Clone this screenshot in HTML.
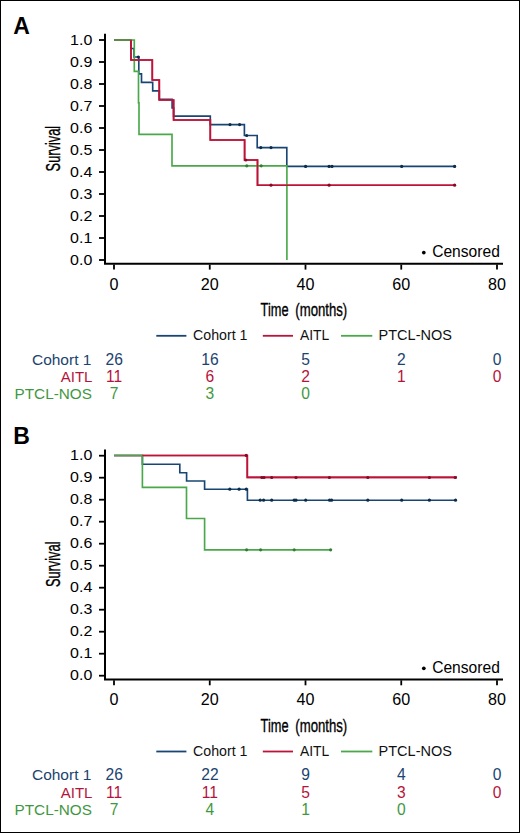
<!DOCTYPE html>
<html><head><meta charset="utf-8"><style>
html,body{margin:0;padding:0;background:#fff;}
#c{position:relative;width:520px;height:833px;box-sizing:border-box;border:1px solid #000;overflow:hidden;background:#fff;}
svg{position:absolute;left:-1px;top:-1px;}
text{font-family:"Liberation Sans", sans-serif;}
</style></head><body><div id="c">
<svg width="520" height="833" viewBox="0 0 520 833" font-family='"Liberation Sans", sans-serif'>
<g transform="translate(0,0)">
<text x="13.2" y="33.5" font-size="23" font-weight="bold" fill="#000">A</text>
<path d="M105 33.8 V263.8 H503" fill="none" stroke="#000" stroke-width="2"/>
<path d="M99 260 H105" stroke="#000" stroke-width="1.8"/>
<text transform="translate(92.3,264.6) scale(1.045,1)" font-size="15.3" text-anchor="end" fill="#000">0.0</text>
<path d="M99 238 H105" stroke="#000" stroke-width="1.8"/>
<text transform="translate(92.3,242.6) scale(1.045,1)" font-size="15.3" text-anchor="end" fill="#000">0.1</text>
<path d="M99 216 H105" stroke="#000" stroke-width="1.8"/>
<text transform="translate(92.3,220.6) scale(1.045,1)" font-size="15.3" text-anchor="end" fill="#000">0.2</text>
<path d="M99 194 H105" stroke="#000" stroke-width="1.8"/>
<text transform="translate(92.3,198.6) scale(1.045,1)" font-size="15.3" text-anchor="end" fill="#000">0.3</text>
<path d="M99 172 H105" stroke="#000" stroke-width="1.8"/>
<text transform="translate(92.3,176.6) scale(1.045,1)" font-size="15.3" text-anchor="end" fill="#000">0.4</text>
<path d="M99 150 H105" stroke="#000" stroke-width="1.8"/>
<text transform="translate(92.3,154.6) scale(1.045,1)" font-size="15.3" text-anchor="end" fill="#000">0.5</text>
<path d="M99 128 H105" stroke="#000" stroke-width="1.8"/>
<text transform="translate(92.3,132.6) scale(1.045,1)" font-size="15.3" text-anchor="end" fill="#000">0.6</text>
<path d="M99 106 H105" stroke="#000" stroke-width="1.8"/>
<text transform="translate(92.3,110.6) scale(1.045,1)" font-size="15.3" text-anchor="end" fill="#000">0.7</text>
<path d="M99 84 H105" stroke="#000" stroke-width="1.8"/>
<text transform="translate(92.3,88.6) scale(1.045,1)" font-size="15.3" text-anchor="end" fill="#000">0.8</text>
<path d="M99 62 H105" stroke="#000" stroke-width="1.8"/>
<text transform="translate(92.3,66.6) scale(1.045,1)" font-size="15.3" text-anchor="end" fill="#000">0.9</text>
<path d="M99 40 H105" stroke="#000" stroke-width="1.8"/>
<text transform="translate(92.3,44.6) scale(1.045,1)" font-size="15.3" text-anchor="end" fill="#000">1.0</text>
<path d="M114.00 264.6 V269.6" stroke="#000" stroke-width="1.8"/>
<text transform="translate(114.00,289.7) scale(1.035,1)" font-size="15.6" text-anchor="middle" fill="#000">0</text>
<path d="M209.75 264.6 V269.6" stroke="#000" stroke-width="1.8"/>
<text transform="translate(209.75,289.7) scale(1.035,1)" font-size="15.6" text-anchor="middle" fill="#000">20</text>
<path d="M305.50 264.6 V269.6" stroke="#000" stroke-width="1.8"/>
<text transform="translate(305.50,289.7) scale(1.035,1)" font-size="15.6" text-anchor="middle" fill="#000">40</text>
<path d="M401.25 264.6 V269.6" stroke="#000" stroke-width="1.8"/>
<text transform="translate(401.25,289.7) scale(1.035,1)" font-size="15.6" text-anchor="middle" fill="#000">60</text>
<path d="M497.00 264.6 V269.6" stroke="#000" stroke-width="1.8"/>
<text transform="translate(497.00,289.7) scale(1.035,1)" font-size="15.6" text-anchor="middle" fill="#000">80</text>
<text transform="translate(59.6,148.6) rotate(-90) scale(0.655,1)" font-size="19.6" text-anchor="middle" fill="#000" stroke="#000" stroke-width="0.35">Survival</text>
<text transform="translate(260.6,316.3) scale(0.70,1)" font-size="18.3" fill="#000" stroke="#000" stroke-width="0.35">Time</text>
<text transform="translate(295.3,316.3) scale(0.72,1)" font-size="18.3" fill="#000" stroke="#000" stroke-width="0.35">(months)</text>
<circle cx="423.8" cy="252.6" r="1.85" fill="#000"/>
<text x="432.2" y="257.4" font-size="15.6" fill="#000">Censored</text>
<path d="M114 40 L131 40 L131 48.5 L134 48.5 L134 57 L138.8 57 L138.8 73.8 L141.5 73.8 L141.5 82.3 L152.7 82.3 L152.7 90.8 L159.3 90.8 L159.3 99.2 L172.1 99.2 L172.1 108 L173.6 108 L173.6 116.1 L210.3 116.1 L210.3 124.6 L244.4 124.6 L244.4 135.5 L257.2 135.5 L257.2 147.6 L286.8 147.6 L286.8 166.4 L456 166.4" fill="none" stroke="#184574" stroke-width="1.65" stroke-linejoin="miter"/>
<path d="M114 40 L131 40 L131 60 L152.3 60 L152.3 80 L159.3 80 L159.3 100 L173.6 100 L173.6 120 L210.3 120 L210.3 140 L244.6 140 L244.6 160 L257.5 160 L257.5 185.2 L456 185.2" fill="none" stroke="#bc1438" stroke-width="1.65" stroke-linejoin="miter"/>
<path d="M114 40 L134.3 40 L134.3 71.4 L138.5 71.4 L138.5 102.9 L139 102.9 L139 134.3 L172 134.3 L172 165.8 L286.9 165.8 L286.9 260" fill="none" stroke="#4aa84a" stroke-width="1.65" stroke-linejoin="miter"/>
<path d="M131 40 L131 60 L152.3 60 L152.3 80 L159.3 80 L159.3 100 L173.6 100 L173.6 120 L210.3 120 L210.3 140 L244.6 140 L244.6 160 L257.5 160 L257.5 185.2 L456 185.2" fill="none" stroke="#bc1438" stroke-width="1.65" stroke-linejoin="miter"/>
<circle cx="138.3" cy="57" r="1.6" fill="#0c2c4c"/>
<circle cx="230" cy="124.6" r="1.6" fill="#0c2c4c"/>
<circle cx="239.6" cy="124.6" r="1.6" fill="#0c2c4c"/>
<circle cx="246.7" cy="135.5" r="1.6" fill="#0c2c4c"/>
<circle cx="260.8" cy="147.6" r="1.6" fill="#0c2c4c"/>
<circle cx="271" cy="147.6" r="1.6" fill="#0c2c4c"/>
<circle cx="305.6" cy="166.4" r="1.6" fill="#0c2c4c"/>
<circle cx="329.1" cy="166.4" r="1.6" fill="#0c2c4c"/>
<circle cx="332" cy="166.4" r="1.6" fill="#0c2c4c"/>
<circle cx="401.7" cy="166.4" r="1.6" fill="#0c2c4c"/>
<circle cx="454.6" cy="166.4" r="1.6" fill="#0c2c4c"/>
<circle cx="246.8" cy="165.8" r="1.6" fill="#2f7f2f"/>
<circle cx="261.2" cy="165.8" r="1.6" fill="#2f7f2f"/>
<circle cx="245.8" cy="160" r="1.6" fill="#860a28"/>
<circle cx="271" cy="185.2" r="1.6" fill="#860a28"/>
<circle cx="329.1" cy="185.2" r="1.6" fill="#860a28"/>
<circle cx="454.6" cy="185.2" r="1.6" fill="#860a28"/>
<path d="M156.3 335.8 H186.4" stroke="#184574" stroke-width="1.8"/>
<text x="193" y="340.1" font-size="14.2" fill="#111">Cohort 1</text>
<path d="M262.8 335.8 H293" stroke="#bc1438" stroke-width="1.8"/>
<text x="300" y="340.1" font-size="13.9" fill="#111">AITL</text>
<path d="M341 335.8 H372.3" stroke="#4aa84a" stroke-width="1.8"/>
<text x="378.6" y="340.1" font-size="14.5" fill="#111">PTCL-NOS</text>
<text x="91.4" y="364.7" font-size="15.5" text-anchor="end" fill="#1b4470">Cohort 1</text>
<text x="114.20" y="364.7" font-size="15.6" text-anchor="middle" fill="#1b4470">26</text>
<text x="209.95" y="364.7" font-size="15.6" text-anchor="middle" fill="#1b4470">16</text>
<text x="305.70" y="364.7" font-size="15.6" text-anchor="middle" fill="#1b4470">5</text>
<text x="401.45" y="364.7" font-size="15.6" text-anchor="middle" fill="#1b4470">2</text>
<text x="497.20" y="364.7" font-size="15.6" text-anchor="middle" fill="#1b4470">0</text>
<text x="92.4" y="382.0" font-size="15" text-anchor="end" fill="#b4143c">AITL</text>
<text x="114.20" y="382.0" font-size="15.6" text-anchor="middle" fill="#b4143c">11</text>
<text x="209.95" y="382.0" font-size="15.6" text-anchor="middle" fill="#b4143c">6</text>
<text x="305.70" y="382.0" font-size="15.6" text-anchor="middle" fill="#b4143c">2</text>
<text x="401.45" y="382.0" font-size="15.6" text-anchor="middle" fill="#b4143c">1</text>
<text x="497.20" y="382.0" font-size="15.6" text-anchor="middle" fill="#b4143c">0</text>
<text x="91.9" y="399.4" font-size="15.3" text-anchor="end" fill="#3f983f">PTCL-NOS</text>
<text x="114.20" y="399.4" font-size="15.6" text-anchor="middle" fill="#3f983f">7</text>
<text x="209.95" y="399.4" font-size="15.6" text-anchor="middle" fill="#3f983f">3</text>
<text x="305.70" y="399.4" font-size="15.6" text-anchor="middle" fill="#3f983f">0</text>
</g>
<g transform="translate(0,415.7)">
<text x="13.2" y="28.0" font-size="23" font-weight="bold" fill="#000">B</text>
<path d="M105 33.8 V263.8 H503" fill="none" stroke="#000" stroke-width="2"/>
<path d="M99 260 H105" stroke="#000" stroke-width="1.8"/>
<text transform="translate(92.3,264.6) scale(1.045,1)" font-size="15.3" text-anchor="end" fill="#000">0.0</text>
<path d="M99 238 H105" stroke="#000" stroke-width="1.8"/>
<text transform="translate(92.3,242.6) scale(1.045,1)" font-size="15.3" text-anchor="end" fill="#000">0.1</text>
<path d="M99 216 H105" stroke="#000" stroke-width="1.8"/>
<text transform="translate(92.3,220.6) scale(1.045,1)" font-size="15.3" text-anchor="end" fill="#000">0.2</text>
<path d="M99 194 H105" stroke="#000" stroke-width="1.8"/>
<text transform="translate(92.3,198.6) scale(1.045,1)" font-size="15.3" text-anchor="end" fill="#000">0.3</text>
<path d="M99 172 H105" stroke="#000" stroke-width="1.8"/>
<text transform="translate(92.3,176.6) scale(1.045,1)" font-size="15.3" text-anchor="end" fill="#000">0.4</text>
<path d="M99 150 H105" stroke="#000" stroke-width="1.8"/>
<text transform="translate(92.3,154.6) scale(1.045,1)" font-size="15.3" text-anchor="end" fill="#000">0.5</text>
<path d="M99 128 H105" stroke="#000" stroke-width="1.8"/>
<text transform="translate(92.3,132.6) scale(1.045,1)" font-size="15.3" text-anchor="end" fill="#000">0.6</text>
<path d="M99 106 H105" stroke="#000" stroke-width="1.8"/>
<text transform="translate(92.3,110.6) scale(1.045,1)" font-size="15.3" text-anchor="end" fill="#000">0.7</text>
<path d="M99 84 H105" stroke="#000" stroke-width="1.8"/>
<text transform="translate(92.3,88.6) scale(1.045,1)" font-size="15.3" text-anchor="end" fill="#000">0.8</text>
<path d="M99 62 H105" stroke="#000" stroke-width="1.8"/>
<text transform="translate(92.3,66.6) scale(1.045,1)" font-size="15.3" text-anchor="end" fill="#000">0.9</text>
<path d="M99 40 H105" stroke="#000" stroke-width="1.8"/>
<text transform="translate(92.3,44.6) scale(1.045,1)" font-size="15.3" text-anchor="end" fill="#000">1.0</text>
<path d="M114.00 264.6 V269.6" stroke="#000" stroke-width="1.8"/>
<text transform="translate(114.00,289.7) scale(1.035,1)" font-size="15.6" text-anchor="middle" fill="#000">0</text>
<path d="M209.75 264.6 V269.6" stroke="#000" stroke-width="1.8"/>
<text transform="translate(209.75,289.7) scale(1.035,1)" font-size="15.6" text-anchor="middle" fill="#000">20</text>
<path d="M305.50 264.6 V269.6" stroke="#000" stroke-width="1.8"/>
<text transform="translate(305.50,289.7) scale(1.035,1)" font-size="15.6" text-anchor="middle" fill="#000">40</text>
<path d="M401.25 264.6 V269.6" stroke="#000" stroke-width="1.8"/>
<text transform="translate(401.25,289.7) scale(1.035,1)" font-size="15.6" text-anchor="middle" fill="#000">60</text>
<path d="M497.00 264.6 V269.6" stroke="#000" stroke-width="1.8"/>
<text transform="translate(497.00,289.7) scale(1.035,1)" font-size="15.6" text-anchor="middle" fill="#000">80</text>
<text transform="translate(59.6,148.6) rotate(-90) scale(0.655,1)" font-size="19.6" text-anchor="middle" fill="#000" stroke="#000" stroke-width="0.35">Survival</text>
<text transform="translate(260.6,316.3) scale(0.70,1)" font-size="18.3" fill="#000" stroke="#000" stroke-width="0.35">Time</text>
<text transform="translate(295.3,316.3) scale(0.72,1)" font-size="18.3" fill="#000" stroke="#000" stroke-width="0.35">(months)</text>
<circle cx="423.8" cy="252.6" r="1.85" fill="#000"/>
<text x="432.2" y="257.4" font-size="15.6" fill="#000">Censored</text>
<path d="M114 39.8 L142.4 39.8 L142.4 48.5 L179.8 48.5 L179.8 57.0 L186.6 57.0 L186.6 65.3 L204.6 65.3 L204.6 73.5 L247.4 73.5 L247.4 84.5 L457 84.5" fill="none" stroke="#184574" stroke-width="1.65" stroke-linejoin="miter"/>
<path d="M114 39.8 L247.3 39.8 L247.3 61.7 L457 61.7" fill="none" stroke="#bc1438" stroke-width="1.65" stroke-linejoin="miter"/>
<path d="M114 39.8 L142.4 39.8 L142.4 71.6 L186.5 71.6 L186.5 102.8 L204.6 102.8 L204.6 134.1 L331 134.1" fill="none" stroke="#4aa84a" stroke-width="1.65" stroke-linejoin="miter"/>
<path d="M142.4 39.8 L247.3 39.8 L247.3 61.7 L457 61.7" fill="none" stroke="#bc1438" stroke-width="1.65" stroke-linejoin="miter"/>
<circle cx="229.8" cy="73.5" r="1.6" fill="#0c2c4c"/>
<circle cx="239.1" cy="73.5" r="1.6" fill="#0c2c4c"/>
<circle cx="246.3" cy="73.5" r="1.6" fill="#0c2c4c"/>
<circle cx="260.2" cy="84.5" r="1.6" fill="#0c2c4c"/>
<circle cx="263.6" cy="84.5" r="1.6" fill="#0c2c4c"/>
<circle cx="271.7" cy="84.5" r="1.6" fill="#0c2c4c"/>
<circle cx="294.2" cy="84.5" r="1.6" fill="#0c2c4c"/>
<circle cx="296" cy="84.5" r="1.6" fill="#0c2c4c"/>
<circle cx="305.7" cy="84.5" r="1.6" fill="#0c2c4c"/>
<circle cx="329.6" cy="84.5" r="1.6" fill="#0c2c4c"/>
<circle cx="331.6" cy="84.5" r="1.6" fill="#0c2c4c"/>
<circle cx="367.8" cy="84.5" r="1.6" fill="#0c2c4c"/>
<circle cx="401.7" cy="84.5" r="1.6" fill="#0c2c4c"/>
<circle cx="429.4" cy="84.5" r="1.6" fill="#0c2c4c"/>
<circle cx="455.5" cy="84.5" r="1.6" fill="#0c2c4c"/>
<circle cx="246.6" cy="134.1" r="1.6" fill="#2f7f2f"/>
<circle cx="260.6" cy="134.1" r="1.6" fill="#2f7f2f"/>
<circle cx="294.2" cy="134.1" r="1.6" fill="#2f7f2f"/>
<circle cx="330.6" cy="134.1" r="1.6" fill="#2f7f2f"/>
<circle cx="246.2" cy="39.7" r="1.6" fill="#860a28"/>
<circle cx="261.9" cy="61.8" r="1.6" fill="#860a28"/>
<circle cx="264" cy="61.8" r="1.6" fill="#860a28"/>
<circle cx="271.7" cy="61.8" r="1.6" fill="#860a28"/>
<circle cx="296" cy="61.8" r="1.6" fill="#860a28"/>
<circle cx="329.4" cy="61.8" r="1.6" fill="#860a28"/>
<circle cx="367.8" cy="61.8" r="1.6" fill="#860a28"/>
<circle cx="429.4" cy="61.8" r="1.6" fill="#860a28"/>
<circle cx="455.2" cy="61.8" r="1.6" fill="#860a28"/>
<path d="M156.3 335.8 H186.4" stroke="#184574" stroke-width="1.8"/>
<text x="193" y="340.1" font-size="14.2" fill="#111">Cohort 1</text>
<path d="M262.8 335.8 H293" stroke="#bc1438" stroke-width="1.8"/>
<text x="300" y="340.1" font-size="13.9" fill="#111">AITL</text>
<path d="M341 335.8 H372.3" stroke="#4aa84a" stroke-width="1.8"/>
<text x="378.6" y="340.1" font-size="14.5" fill="#111">PTCL-NOS</text>
<text x="91.4" y="364.7" font-size="15.5" text-anchor="end" fill="#1b4470">Cohort 1</text>
<text x="114.20" y="364.7" font-size="15.6" text-anchor="middle" fill="#1b4470">26</text>
<text x="209.95" y="364.7" font-size="15.6" text-anchor="middle" fill="#1b4470">22</text>
<text x="305.70" y="364.7" font-size="15.6" text-anchor="middle" fill="#1b4470">9</text>
<text x="401.45" y="364.7" font-size="15.6" text-anchor="middle" fill="#1b4470">4</text>
<text x="497.20" y="364.7" font-size="15.6" text-anchor="middle" fill="#1b4470">0</text>
<text x="92.4" y="382.0" font-size="15" text-anchor="end" fill="#b4143c">AITL</text>
<text x="114.20" y="382.0" font-size="15.6" text-anchor="middle" fill="#b4143c">11</text>
<text x="209.95" y="382.0" font-size="15.6" text-anchor="middle" fill="#b4143c">11</text>
<text x="305.70" y="382.0" font-size="15.6" text-anchor="middle" fill="#b4143c">5</text>
<text x="401.45" y="382.0" font-size="15.6" text-anchor="middle" fill="#b4143c">3</text>
<text x="497.20" y="382.0" font-size="15.6" text-anchor="middle" fill="#b4143c">0</text>
<text x="91.9" y="399.4" font-size="15.3" text-anchor="end" fill="#3f983f">PTCL-NOS</text>
<text x="114.20" y="399.4" font-size="15.6" text-anchor="middle" fill="#3f983f">7</text>
<text x="209.95" y="399.4" font-size="15.6" text-anchor="middle" fill="#3f983f">4</text>
<text x="305.70" y="399.4" font-size="15.6" text-anchor="middle" fill="#3f983f">1</text>
<text x="401.45" y="399.4" font-size="15.6" text-anchor="middle" fill="#3f983f">0</text>
</g>
</svg></div></body></html>
